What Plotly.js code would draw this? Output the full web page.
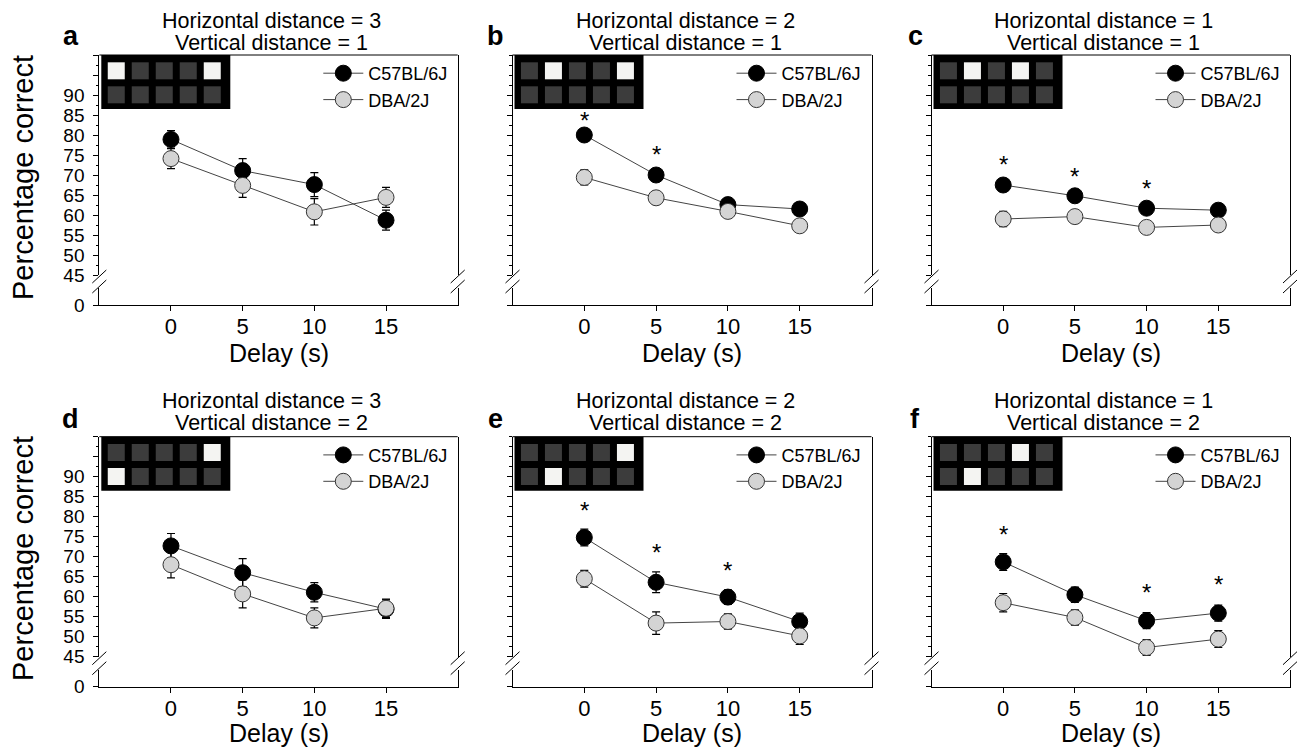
<!DOCTYPE html>
<html><head><meta charset="utf-8">
<script src="https://cdn.plot.ly/plotly-3.0.1.min.js"></script>
<style>html,body{margin:0;padding:0;background:#fff}#chart{width:1306px;height:749px}</style>
</head><body><div id="chart"></div>
<script>
// ---------------- data ----------------
const delays = [0, 5, 10, 15];
const delayLabels = ['0', '5', '10', '15'];
const panelLetters = ['a', 'b', 'c', 'd', 'e', 'f'];
const horizDist = [3, 2, 1, 3, 2, 1];
const vertDist = [1, 1, 1, 2, 2, 2];
const strainNames = ['C57BL/6J', 'DBA/2J'];

const c57Mean = [
  [78.9, 71.1, 67.6, 58.7],
  [80.0, 70.0, 62.6, 61.5],
  [67.5, 64.8, 61.7, 61.2],
  [72.7, 66.0, 61.1, 56.9],
  [74.8, 63.6, 59.9, 53.8],
  [68.7, 60.5, 54.0, 55.9]
];
const c57Sem = [
  [2.2, 3.0, 3.0, 2.5],
  [1.5, 1.5, 1.5, 1.5],
  [1.5, 1.5, 1.5, 1.5],
  [3.1, 3.5, 2.4, 2.3],
  [2.1, 2.6, 1.8, 2.1],
  [2.1, 1.9, 2.0, 2.0]
];
const dbaMean = [
  [74.1, 67.4, 60.8, 64.4],
  [69.4, 64.3, 60.9, 57.3],
  [59.0, 59.6, 56.9, 57.5],
  [68.0, 60.7, 54.7, 57.1],
  [64.5, 53.4, 53.8, 50.2],
  [58.5, 54.8, 47.3, 49.4]
];
const dbaSem = [
  [2.5, 3.0, 3.3, 2.5],
  [1.9, 1.6, 1.5, 1.5],
  [1.9, 1.6, 1.5, 1.5],
  [3.3, 3.5, 2.5, 2.3],
  [2.1, 2.8, 1.9, 2.1],
  [2.3, 1.9, 2.0, 2.1]
];
// significance asterisks (delay, height in % units)
const starX = [[], [0, 5], [0, 5, 10], [], [0, 5, 10], [0, 10, 15]];
const starY = [[], [84.8, 76.3], [73.8, 70.8, 68.0], [], [82.9, 72.4, 67.9], [76.7, 62.2, 64.2]];

// inset grids: 1 = lit hole
const insetTop = [
  [1, 0, 0, 0, 1], [0, 1, 0, 0, 1], [0, 1, 0, 1, 0],
  [0, 0, 0, 0, 1], [0, 0, 0, 0, 1], [0, 0, 0, 1, 0]
];
const insetBottom = [
  [0, 0, 0, 0, 0], [0, 0, 0, 0, 0], [0, 0, 0, 0, 0],
  [1, 0, 0, 0, 0], [0, 1, 0, 0, 0], [0, 1, 0, 0, 0]
];
const insetCols = [0, 1, 2, 3, 4];
const insetRows = [0, 1];

const yTickVals = [45, 50, 55, 60, 65, 70, 75, 80, 85, 90, 95, 100];
const yTickLabels = ['45', '50', '55', '60', '65', '70', '75', '80', '85', '90', '', ''];

// ---------------- layout geometry (pixels) ----------------
const W = 1306, H = 749;
const FONT = 'Liberation Sans, Arial, Helvetica, sans-serif';
const cols = [{l: 99.3, r: 457.7}, {l: 512.5, r: 871.5}, {l: 931.5, r: 1290}];
const rows = [
  {top: 55, u45: 275, lowTop: 288, zero: 305, t1: 21, t2: 43, letter: 36, xt: 353, yt: 178},
  {top: 436.7, u45: 656.7, lowTop: 669.7, zero: 686.7, t1: 401, t2: 423, letter: 419, xt: 733, yt: 559}
];
const letterX = [70.5, 495, 915];
const fx = p => p / W;
const fy = p => 1 - p / H;

const data = [], annotations = [], shapes = [];
const layout = {
  width: W, height: H, margin: {l: 0, r: 0, t: 0, b: 0},
  paper_bgcolor: '#fff', plot_bgcolor: 'rgba(0,0,0,0)',
  font: {family: FONT, color: '#000'},
  showlegend: true, annotations, shapes
};

function ann(text, px, py, size, extra) {
  annotations.push(Object.assign({
    text, xref: 'paper', yref: 'paper', x: fx(px), y: fy(py),
    xanchor: 'center', yanchor: 'middle', showarrow: false,
    font: {family: FONT, size, color: '#000'}
  }, extra || {}));
}

for (let i = 0; i < 6; i++) {
  const k = i + 1;
  const col = cols[i % 3], row = rows[Math.floor(i / 3)];
  const xid = 'x' + (k === 1 ? '' : k);
  const yid = 'y' + (k === 1 ? '' : k);
  const ylid = 'y' + (k + 6);
  const xin = 'x' + (k + 6), yin = 'y' + (k + 12);
  const legId = 'legend' + (k === 1 ? '' : k);
  const showLab = (i % 3) === 0;

  layout['xaxis' + (k === 1 ? '' : k)] = {
    domain: [fx(col.l), fx(col.r)], range: [-5, 20], anchor: ylid,
    tickmode: 'array', tickvals: delays, ticktext: delayLabels,
    ticks: 'outside', ticklen: 5, tickwidth: 1, tickcolor: '#000',
    showline: true, linecolor: '#000', linewidth: 1, ticklabelstandoff: -3,
    showgrid: false, zeroline: false, tickfont: {size: 22}, fixedrange: true
  };
  layout['yaxis' + (k === 1 ? '' : k)] = {
    domain: [fy(row.u45), fy(row.top)], range: [45, 100], anchor: xid,
    tickmode: 'array', tickvals: yTickVals, ticktext: yTickLabels,
    ticks: 'outside', ticklen: 5, tickwidth: 1, tickcolor: '#000',
    showline: true, mirror: true, linecolor: '#000', linewidth: 1,
    showgrid: false, zeroline: false, showticklabels: showLab,
    tickfont: {size: 19}, ticklabelstandoff: 5, fixedrange: true,
    minor: {dtick: 2.5, tick0: 45, ticks: 'outside', ticklen: 2.5, tickwidth: 1, tickcolor: '#000', showgrid: false}
  };
  layout['yaxis' + (k + 6)] = {
    domain: [fy(row.zero), fy(row.lowTop)], range: [0, 4.25], anchor: xid,
    tickmode: 'array', tickvals: [0], ticktext: ['0'],
    ticks: 'outside', ticklen: 5, tickwidth: 1, tickcolor: '#000',
    showline: true, mirror: true, linecolor: '#000', linewidth: 1,
    showgrid: false, zeroline: false, showticklabels: showLab,
    tickfont: {size: 19}, ticklabelstandoff: 5, fixedrange: true
  };
  // inset axes
  layout['xaxis' + (k + 6)] = {
    domain: [fx(col.l + 5.4), fx(col.l + 125.4)], range: [-0.5, 4.5],
    anchor: yin, visible: false, fixedrange: true
  };
  layout['yaxis' + (k + 12)] = {
    domain: [fy(row.top + 52.3), fy(row.top + 4.3)], range: [-0.5, 1.5],
    anchor: xin, visible: false, fixedrange: true
  };

  // legend
  layout[legId] = {
    x: fx(col.l + 219), y: fy(row.top), xanchor: 'left', yanchor: 'top',
    bgcolor: 'rgba(0,0,0,0)', borderwidth: 0, font: {size: 18, family: FONT},
    tracegroupgap: 0, itemwidth: 40, itemclick: false, itemdoubleclick: false
  };

  // inset background + heatmap
  shapes.push({type: 'rect', xref: 'paper', yref: 'paper', layer: 'below',
    x0: fx(col.l + 2), x1: fx(col.l + 131), y0: fy(row.top + 54), y1: fy(row.top),
    fillcolor: '#000', line: {width: 0}});
  data.push({
    type: 'heatmap', x: insetCols, y: insetRows, z: [insetBottom[i], insetTop[i]],
    xaxis: xin, yaxis: yin, zmin: 0, zmax: 1,
    colorscale: [[0, '#3c3c3c'], [1, '#f4f4f2']], showscale: false,
    xgap: 7, ygap: 7, hoverinfo: 'skip', showlegend: false
  });

  // empty trace so the lower (0) segment of the broken axis exists as a subplot
  data.push({type: 'scatter', mode: 'markers', x: [], y: [], xaxis: xid, yaxis: ylid,
    showlegend: false, hoverinfo: 'skip'});

  // frame top line and axis breaks
  shapes.push({type: 'line', xref: 'paper', yref: 'paper',
    x0: fx(col.l), x1: fx(col.r), y0: fy(row.top), y1: fy(row.top),
    line: {color: '#000', width: 1}});
  [col.l, col.r].forEach(sx => {
    [row.zero - 28.5, row.zero - 18.5].forEach(cy => {
      shapes.push({type: 'line', xref: 'paper', yref: 'paper',
        x0: fx(sx - 7), y0: fy(cy + 6.5), x1: fx(sx + 7), y1: fy(cy - 6.5),
        line: {color: '#000', width: 1}});
    });
  });

  // data traces
  data.push({
    type: 'scatter', mode: 'lines+markers', name: strainNames[0],
    x: delays, y: c57Mean[i], xaxis: xid, yaxis: yid, legend: legId,
    error_y: {type: 'data', array: c57Sem[i], visible: true, color: '#000', thickness: 1.2, width: 4},
    marker: {size: 16, color: '#000', line: {color: '#000', width: 1}},
    line: {color: '#444', width: 1}, cliponaxis: false, hoverinfo: 'x+y'
  });
  data.push({
    type: 'scatter', mode: 'lines+markers', name: strainNames[1],
    x: delays, y: dbaMean[i], xaxis: xid, yaxis: yid, legend: legId,
    error_y: {type: 'data', array: dbaSem[i], visible: true, color: '#000', thickness: 1.2, width: 4},
    marker: {size: 16, color: '#d4d4d4', line: {color: '#333', width: 1}},
    line: {color: '#444', width: 1}, cliponaxis: false, hoverinfo: 'x+y'
  });

  // asterisks
  starX[i].forEach((sx, j) => {
    annotations.push({text: '*', xref: xid, yref: yid, x: sx, y: starY[i][j],
      showarrow: false, xanchor: 'center', yanchor: 'middle', yshift: -5,
      font: {family: FONT, size: 24, color: '#000'}});
  });

  // texts
  const cx = (col.l + col.r) / 2;
  ann('Horizontal distance = ' + horizDist[i], cx - 7, row.t1, 21.5);
  ann('Vertical distance = ' + vertDist[i], cx - 7, row.t2, 21.5);
  ann('<b>' + panelLetters[i] + '</b>', letterX[i % 3], row.letter, 27);
  ann('Delay (s)', cx, row.xt, 25);
}
ann('Percentage correct', 23, rows[0].yt, 29, {textangle: -90});
ann('Percentage correct', 23, rows[1].yt, 29, {textangle: -90});

Plotly.newPlot('chart', data, layout, {displayModeBar: false, staticPlot: true});
</script>
</body></html>
